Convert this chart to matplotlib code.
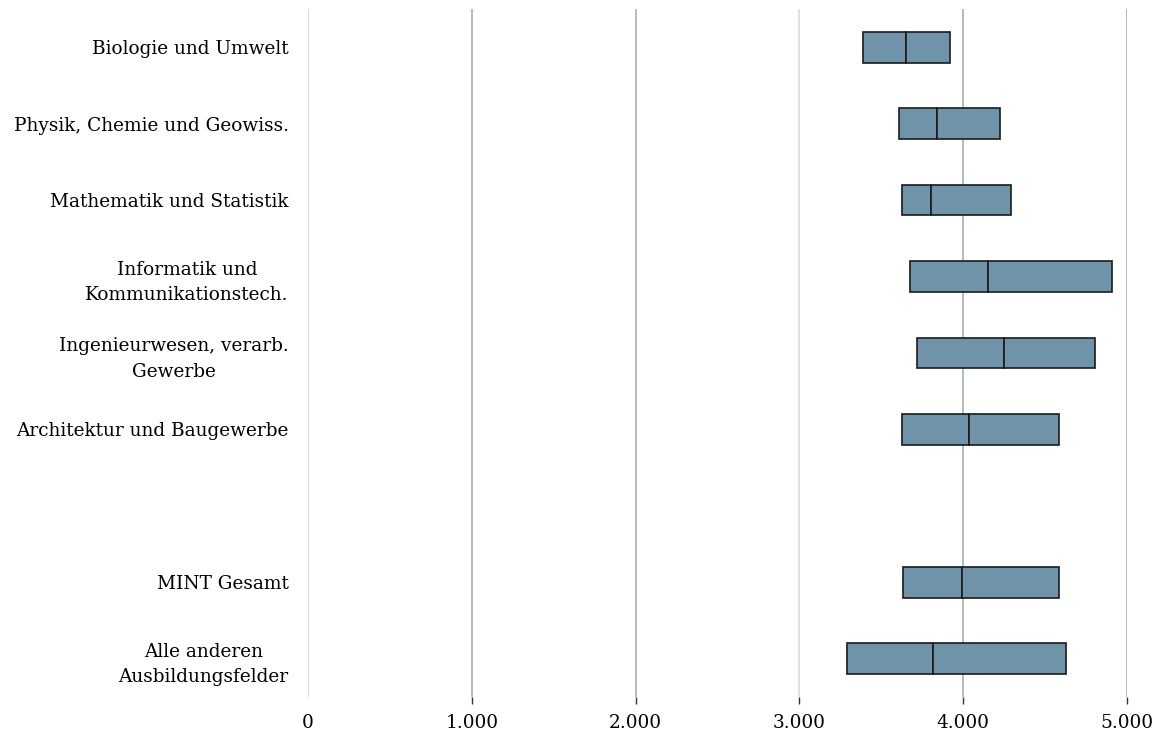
import matplotlib.pyplot as plt

# Quartile bars (25% / median / 75%) per field
categories = ["Biologie und Umwelt", "Physik, Chemie und Geowiss.", "Mathematik und Statistik",
              "Informatik und\nKommunikationstech.", "Ingenieurwesen, verarb.\nGewerbe",
              "Architektur und Baugewerbe", "", "MINT Gesamt", "Alle anderen\nAusbildungsfelder"]
q25 = [3387, 3607, 3625, 3675, 3720, 3627, None, 3632, 3289]
median = [3653, 3842, 3804, 4152, 4252, 4034, None, 3993, 3816]
q75 = [3918, 4227, 4294, 4908, 4804, 4586, None, 4582, 4630]
xticks = [0, 1000, 2000, 3000, 4000, 5000]
xtick_labels = ["0", "1.000", "2.000", "3.000", "4.000", "5.000"]

plt.rcParams['font.family'] = ['DejaVu Serif']

fig = plt.figure(figsize=(11.6, 7.4), dpi=100)
ax = fig.add_axes([308 / 1160, 1 - 697 / 740, (1127 - 308) / 1160, (697 - 9) / 740])

grid_colors = {0: '#d9d9d9', 3000: '#dde2e7'}
for t in xticks:
    ax.axvline(t, color=grid_colors.get(t, '#b3bbc3'), lw=1.4, zorder=0)

bar_color = '#6f93a8'
for i, (lo, med, hi) in enumerate(zip(q25, median, q75)):
    if lo is None:
        continue
    ax.barh(i, med - lo, left=lo, height=0.4, color=bar_color, edgecolor='#1a1a1a', lw=1.2, zorder=2)
    ax.barh(i, hi - med, left=med, height=0.4, color=bar_color, edgecolor='#1a1a1a', lw=1.2, zorder=2)

ax.set_xlim(0, 5000)
ax.set_ylim(len(categories) - 0.5, -0.5)
ax.set_yticks(range(len(categories)))
ax.set_yticklabels(categories, fontsize=13.3, multialignment='center', linespacing=1.55)
ax.tick_params(axis='y', length=0, pad=14)
ax.set_xticks(xticks)
ax.set_xticklabels(xtick_labels, fontsize=13.3)
ax.tick_params(axis='x', length=5, width=1, color='#333333', pad=7)
ax.xaxis.get_major_ticks()[0].tick1line.set_visible(False)

for s in ax.spines.values():
    s.set_visible(False)

fig.savefig('out.png', dpi=100)
